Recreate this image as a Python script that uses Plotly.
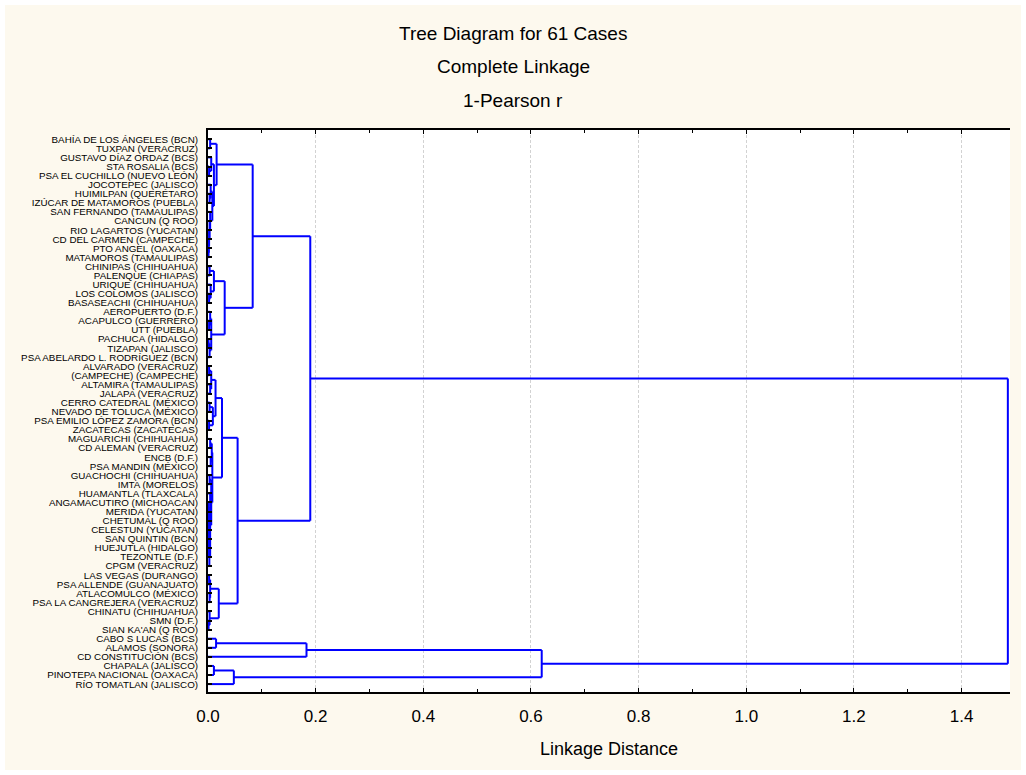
import plotly.graph_objects as go

# ---------------- data ----------------
case_labels = [
    "BAHÍA DE LOS ÁNGELES (BCN)", "TUXPAN (VERACRUZ)", "GUSTAVO DÍAZ ORDAZ (BCS)",
    "STA ROSALIA (BCS)", "PSA EL CUCHILLO (NUEVO LEÓN)", "JOCOTEPEC (JALISCO)",
    "HUIMILPAN (QUERÉTARO)", "IZÚCAR DE MATAMOROS (PUEBLA)", "SAN FERNANDO (TAMAULIPAS)",
    "CANCUN (Q ROO)", "RIO LAGARTOS (YUCATAN)", "CD DEL CARMEN (CAMPECHE)",
    "PTO ANGEL (OAXACA)", "MATAMOROS (TAMAULIPAS)", "CHINIPAS (CHIHUAHUA)",
    "PALENQUE (CHIAPAS)", "URIQUE (CHIHUAHUA)", "LOS COLOMOS (JALISCO)",
    "BASASEACHI (CHIHUAHUA)", "AEROPUERTO (D.F.)", "ACAPULCO (GUERRERO)",
    "UTT (PUEBLA)", "PACHUCA (HIDALGO)", "TIZAPAN (JALISCO)",
    "PSA ABELARDO L. RODRÍGUEZ (BCN)", "ALVARADO (VERACRUZ)", "(CAMPECHE) (CAMPECHE)",
    "ALTAMIRA (TAMAULIPAS)", "JALAPA (VERACRUZ)", "CERRO CATEDRAL (MÉXICO)",
    "NEVADO DE TOLUCA (MÉXICO)", "PSA EMILIO LÓPEZ ZAMORA (BCN)", "ZACATECAS (ZACATECAS)",
    "MAGUARICHI (CHIHUAHUA)", "CD ALEMAN (VERACRUZ)", "ENCB (D.F.)",
    "PSA MANDIN (MÉXICO)", "GUACHOCHI (CHIHUAHUA)", "IMTA (MORELOS)",
    "HUAMANTLA (TLAXCALA)", "ANGAMACUTIRO (MICHOACAN)", "MERIDA (YUCATAN)",
    "CHETUMAL (Q ROO)", "CELESTUN (YUCATAN)", "SAN QUINTIN (BCN)",
    "HUEJUTLA (HIDALGO)", "TEZONTLE (D.F.)", "CPGM (VERACRUZ)",
    "LAS VEGAS (DURANGO)", "PSA ALLENDE (GUANAJUATO)", "ATLACOMULCO (MÉXICO)",
    "PSA LA CANGREJERA (VERACRUZ)", "CHINATU (CHIHUAHUA)", "SMN (D.F.)",
    "SIAN KA'AN (Q ROO)", "CABO S LUCAS (BCS)", "ALAMOS (SONORA)",
    "CD CONSTITUCIÓN (BCS)", "CHAPALA (JALISCO)", "PINOTEPA NACIONAL (OAXACA)",
    "RÍO TOMATLAN (JALISCO)",
]

# linkage: node ids 0..60 are cases, merge k creates node 61+k
link_a = [0, 3, 2, 6, 5, 12, 11, 10, 9, 8, 65, 63, 61, 14, 17, 16, 74, 20, 19, 22,
          80, 79, 77, 73, 25, 27, 85, 29, 31, 88, 87, 33, 35, 92, 37, 40, 96, 97, 98, 99,
          100, 101, 39, 95, 94, 91, 48, 50, 107, 53, 52, 109, 106, 84, 55, 115, 58, 117, 116, 114]
link_b = [1, 4, 62, 7, 64, 13, 66, 67, 68, 69, 70, 71, 72, 15, 18, 75, 76, 21, 78, 23,
          24, 81, 82, 83, 26, 28, 86, 30, 32, 89, 90, 34, 36, 93, 38, 41, 42, 43, 44, 45,
          46, 47, 102, 103, 104, 105, 49, 51, 108, 54, 110, 111, 112, 113, 56, 57, 59, 60, 118, 119]
link_h = [0.004, 0.002, 0.006, 0.003, 0.005, 0.001, 0.0015, 0.002, 0.003, 0.004,
          0.008, 0.011, 0.016, 0.003, 0.002, 0.005, 0.011, 0.002, 0.004, 0.001,
          0.003, 0.006, 0.031, 0.083, 0.002, 0.004, 0.006, 0.003, 0.002, 0.009,
          0.014, 0.004, 0.005, 0.007, 0.003, 0.001, 0.0012, 0.0014, 0.0016, 0.0018,
          0.002, 0.0025, 0.004, 0.006, 0.008, 0.026, 0.002, 0.003, 0.004, 0.001,
          0.003, 0.020, 0.055, 0.190, 0.015, 0.183, 0.011, 0.048, 0.620, 1.486]

x_ticks = [0.0, 0.2, 0.4, 0.6, 0.8, 1.0, 1.2, 1.4]
x_tick_labels = ["0.0", "0.2", "0.4", "0.6", "0.8", "1.0", "1.2", "1.4"]

# ---------------- geometry from the linkage ----------------
n = len(case_labels)
pos = {i: float(i) for i in range(n)}
hgt = {i: 0.0 for i in range(n)}
xs, ys = [], []
for k, (a, b, h) in enumerate(zip(link_a, link_b, link_h)):
    node = n + k
    for c in (a, b):
        xs += [hgt[c], h, None]
        ys += [pos[c], pos[c], None]
    xs += [h, h, None]
    ys += [pos[a], pos[b], None]
    pos[node] = (pos[a] + pos[b]) / 2
    hgt[node] = h

# ---------------- figure ----------------
W, H = 1026, 775
L, R, T, B = 208, 16, 130, 83
pw, ph = W - L - R, H - T - B


def px(x):
    return (x - L) / pw


def py(y):
    return (H - B - y) / ph


cream = "#fdf9ee"
fig = go.Figure()
fig.add_trace(go.Scatter(x=xs, y=ys, mode="lines",
                         line=dict(color="#0000ff", width=2),
                         hoverinfo="skip", showlegend=False))

font_main = "Liberation Sans, Arial, sans-serif"

fig.update_layout(
    width=W, height=H,
    margin=dict(l=L, r=R, t=T, b=B),
    paper_bgcolor=cream, plot_bgcolor="white",
    showlegend=False,
    font=dict(family=font_main, color="black"),
    xaxis=dict(range=[0, 1.49], tickvals=x_ticks, ticktext=x_tick_labels,
               ticks="inside", ticklen=4, tickwidth=1, tickcolor="black",
               minor=dict(dtick=0.1, ticks="inside", ticklen=3, tickcolor="black", showgrid=False),
               showline=True, linewidth=2, linecolor="black", mirror="ticks",
               showgrid=True, gridcolor="#d2d2d2", griddash="3px,2px", gridwidth=1,
               zeroline=False, tickfont=dict(size=17, family=font_main),
               ticklabelstandoff=8,
               title=dict(text="Linkage Distance", font=dict(size=18, family=font_main), standoff=17)),
    yaxis=dict(range=[60.87, -1.02], tickvals=list(range(n)), ticktext=case_labels,
               ticks="inside", ticklen=4, tickwidth=2, tickcolor="black",
               showline=True, linewidth=2, linecolor="black",
               showgrid=False, zeroline=False, ticklabelstandoff=6,
               tickfont=dict(size=9.8, family=font_main)),
)

titles = ["Tree Diagram for 61 Cases", "Complete Linkage", "1-Pearson r"]
for txt, yy in zip(titles, [33, 67, 100]):
    fig.add_annotation(text=txt, xref="paper", yref="paper", x=px(513), y=py(yy),
                       xanchor="center", yanchor="middle", showarrow=False,
                       font=dict(size=19, family=font_main, color="black"))

# white outer border of the picture
fig.add_shape(type="rect", xref="paper", yref="paper",
              x0=px(0), x1=px(W), y0=py(H), y1=py(0),
              line=dict(color="white", width=10), fillcolor="rgba(0,0,0,0)", layer="below")

fig.write_html("out.html")
